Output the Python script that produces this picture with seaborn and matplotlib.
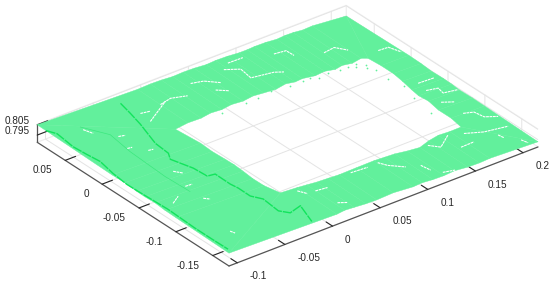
import numpy as np
import matplotlib
matplotlib.use("Agg")
import matplotlib.pyplot as plt
import seaborn as sns
from mpl_toolkits.mplot3d import proj3d

# ---- axis data
x_ticks = [-0.1, -0.05, 0, 0.05, 0.1, 0.15, 0.2]
x_tick_labels = ["-0.1", "-0.05", "0", "0.05", "0.1", "0.15", "0.2"]
y_ticks = [-0.15, -0.1, -0.05, 0, 0.05]
y_tick_labels = ["-0.15", "-0.1", "-0.05", "0", "0.05"]
z_ticks = [0.795, 0.805]
z_tick_labels = ["0.795", "0.805"]
x_range = (-0.1087, 0.2157)
y_range = (-0.172, 0.088)
z_range = (0.788, 0.8055)

# ---- surface: inner rim (around the hole) and outer rim, point for point
hole_x = [-.0122, .0046, .0140, .0235, .0350, .0465, .0650, .0846, .0950, .1055, .1170, .1292, .1420, .1543, .1660, .1783,
          .1806, .1800, .1825, .1810, .1825, .1850, .1865, .1866, .1849,
          .1801, .1690, .1600, .1513, .1420, .1310, .1194, .1110, .1025, .0905, .0785, .0680, .0560, .0445, .0330, .0216, .0100, -.0040, -.0189,
          -.0160, -.0165, -.0155, -.0150, -.0155, -.0165, -.0160, -.0122]
hole_y = [-.117, -.1180, -.1190, -.1200, -.1205, -.1210, -.1200, -.1190, -.1195, -.1200, -.1220, -.1235, -.1190, -.1160, -.1165, -.116,
          -.0995, -.083, -.0664, -.055, -.0438, -.028, -.0135, .0032, .0185,
          .0218, .0195, .0215, .0195, .0220, .0205, .0230, .0220, .0240, .0215, .0225, .0235, .0215, .0225, .0205, .0212, .0190, .0190, .0166,
          -.0136, -.030, -.0464, -.058, -.0706, -.085, -.0998, -.117]
hole_z = [.7992, .7988, .7986, .7983, .7981, .7978, .7974, .7969, .7967, .7965, .7961, .7959, .7957, .7953, .7950, .7948,
          .7950, .7955, .7956, .7960, .7960, .7962, .7965, .7964, .7970,
          .7972, .7974, .7976, .7978, .7981, .7984, .7986, .7988, .7990, .7992, .7995, .7998, .8000, .8003, .8005, .8008, .8010, .8014, .8017,
          .8011, .8008, .8005, .8003, .8001, .7999, .7996, .7992]
rim_x = [-.1087, .0046, .0140, .0235, .0350, .0465, .0650, .0846, .0950, .1055, .1170, .1292, .1420, .1543, .1660, .2157,
         .2157, .2157, .2150, .2157, .2157, .2150, .2157, .2157, .2157,
         .1801, .1690, .1600, .1513, .1420, .1310, .1194, .1110, .1025, .0905, .0785, .0680, .0560, .0445, .0330, .0216, .0100, -.0040, -.1087,
         -.1087, -.1080, -.1087, -.1087, -.1080, -.1087, -.1087, -.1087]
rim_y = [-.172, -.172, -.1705, -.171, -.172, -.172, -.1705, -.172, -.171, -.172, -.172, -.1705, -.172, -.172, -.171, -.172,
         -.0995, -.083, -.0664, -.055, -.0438, -.028, -.0135, .0032, .088,
         .088, .0868, .088, .088, .0870, .088, .088, .0872, .087, .088, .088, .0870, .088, .088, .0872, .088, .088, .087, .088,
         -.0136, -.030, -.0464, -.058, -.0706, -.085, -.0998, -.172]
rim_z = [.8005, .7979, .7977, .7974, .7972, .7969, .7965, .7960, .7958, .7956, .7953, .7950, .7947, .7944, .7942, .7930,
         .7943, .7945, .7948, .7950, .7952, .7955, .7958, .7961, .7950,
         .7981, .7986, .7988, .7990, .7992, .7995, .7997, .7999, .8001, .8004, .8007, .8009, .8012, .8015, .8017, .8020, .8023, .8026, .8050,
         .8032, .8030, .8027, .8025, .8023, .8020, .8017, .8005]

# ---- stray measured points just inside the hole
stray_x = [.1177, .1318, .1431, .0854, .0693, .1619, .1705, .1763, .1781, .1729, .1755, .1816, .1540, .1250, .1040, .0560, .0300, .1680, .1745, .1770]
stray_y = [.0201, .0165, .0188, .022, .0188, .016, .0162, .0102, -.0011, -.0822, -.0558, -.035, .0170, .0205, .0195, .0175, .0160, .0130, .0070, -.0180]
stray_z = [.7985, .7982, .7980, .7992, .7996, .7976, .7974, .7972, .7970, .7952, .7958, .7962, .7977, .7984, .7989, .7999, .8005, .7974, .7971, .7964]

# ---- dark-green ridges
ridge_a_x = [-.1085, -.1042, -.1065, -.105, -.1032, -.1066, -.1082, -.1074, -.1056, -.1064, -.106, -.1053]
ridge_a_y = [.0763, .0668, .0422, .0251, .0097, -.0122, -.0332, -.0539, -.0854, -.1231, -.1455, -.1663]
ridge_a_z = [.8047, .8045, .8041, .8038, .8036, .8032, .8028, .8025, .8019, .8013, .8009, .8005]
ridge_b_x = [-.03, -.0335, -.0379, -.047, -.0482, -.053, -.0464, -.045, -.0375, -.0374, -.036, -.0359, -.0301, -.0319, -.0258, -.0117, -.0202]
ridge_b_y = [.0767, .0588, .0396, .0075, -.0117, -.0205, -.0432, -.0603, -.0614, -.0816, -.0907, -.1068, -.1169, -.1398, -.148, -.1435, -.17]
ridge_b_z = [.8030, .8028, .8027, .8022, .8019, .8018, .8013, .8010, .8008, .8004, .8002, .7999, .7996, .7993, .7990, .7988, .7988]
ridge_c_x = [-.0812, -.0687, -.0724, -.0739, -.0721]
ridge_c_y = [.0652, .0406, .0088, -.0406, -.072]
ridge_c_z = [.8036, .8030, .8025, .8017, .8011]

# ---- white cracks: x list, y list, surface level
crack_x = [[.0385, .0496, .0592], [.0756, .0873, .085, .1059, .1128], [.1253, .1367, .1371],
           [.1608, .1728, .1793], [.2, .21, .2138], [-.0036, .0095, .0232], [.0486, .0565],
           [.0845, .0999], [-.0279, .0029], [.1937, .2098], [.192, .2024, .2007, .214],
           [.1901, .1991], [.194, .2025, .2043, .2139], [.1741, .1889, .2106], [.1578, .1718],
           [.0853, .0891, .0994], [.1118, .1135], [.0565, .0733], [.1371, .144, .1611],
           [.1198, .1301], [.1955, .1966], [.2062, .208], [-.0822, -.0794], [-.0266, -.0176],
           [-.059, -.0545], [-.0633, -.0584], [-.0703, -.0635], [-.0702, -.0665], [-.0652, -.0594],
           [-.0713, -.0669], [.0015, .0054], [.0169, .0237], [.0139, .0253], [-.0855, -.0841], [-.096, -.0854]]
crack_y = [[.0701, .0666, .056], [.073, .065, .0485, .0442, .0395], [.0693, .0675, .0572],
           [.0471, .0489, .0384], [.0243, .0235, .0109], [.0566, .0597, .0544], [.0492, .0417],
           [.079, .0786], [.0389, .0581], [-.0379, -.0388], [-.0509, -.0539, -.0628, -.0659],
           [-.0737, -.0798], [-.0985, -.1024, -.1137, -.1203], [-.1253, -.1334, -.1381], [-.1424, -.1419],
           [-.1231, -.1317, -.1429], [-.1472, -.1585], [-.1236, -.125], [-.1242, -.133, -.1205],
           [-.1668, -.17], [-.144, -.1507], [-.1613, -.1686], [.0599, .0499], [.0541, .052],
           [.0016, .0006], [-.0377, -.0451], [-.0632, -.0637], [-.0874, -.092], [.0341, .0322],
           [.0141, .0132], [-.1223, -.131], [-.1569, -.1616], [-.1308, -.1325], [-.1435, -.1485], [-.0798, -.073]]
crack_z = [.8009, .7998, .7990, .7978, .7965, .8017, .8006, .8002, .8021, .7957, .7953, .7951, .7944, .7943, .7947,
           .7966, .7957, .7973, .7954, .7951, .7939, .7933, .8038, .8024, .8023, .8017, .8014, .8010, .8030, .8028,
           .7987, .7977, .7982, .8004, .8017]

SURF = "#62F09C"
RIDGE = "#12E45C"
FAINT = "#3CE87E"
GRID = "#e4e4e4"
AXIS = "#555555"
TEXT = "#262626"

sns.set_theme(style="white", rc={"axes.facecolor": "white", "figure.facecolor": "white"})
plt.rcParams["font.family"] = ["Liberation Sans", "DejaVu Sans"]

fig = plt.figure(figsize=(5.5, 2.85), dpi=100)
ax = fig.add_axes([0, -0.5, 1, 2], projection="3d", computed_zorder=False)
ax.set_proj_type("ortho")
ax.view_init(elev=29.9, azim=-127.7)
ax.set_xlim(*x_range, view_margin=0)
ax.set_ylim(*y_range, view_margin=0)
ax.set_zlim(*z_range, view_margin=0)

ax.set_xticks(x_ticks)
ax.set_yticks(y_ticks)
ax.set_zticks(z_ticks)

for axis in (ax.xaxis, ax.yaxis, ax.zaxis):
    axis.set_tick_params(label1On=False, label2On=False)
    axis.pane.set_facecolor("white")
    axis.pane.set_edgecolor(GRID)
    axis.pane.set_linewidth(0.7)
    axis.line.set_color(AXIS)
    axis.line.set_linewidth(0.9)
    info = axis._axinfo
    info["grid"].update(color=GRID, linewidth=0.7)
    info["tick"].update(color=AXIS, inward_factor=0.0, outward_factor=0.42)
    info["tick"]["linewidth"] = {True: 0.8, False: 0.8}

X = np.array([rim_x, hole_x])
Y = np.array([rim_y, hole_y])
Z = np.array([rim_z, hole_z])
ax.plot_surface(X, Y, Z, color=SURF, shade=False, rstride=1, cstride=1,
                linewidth=0.3, edgecolor=SURF, antialiased=True, zorder=2)
ax.scatter(stray_x, stray_y, stray_z, s=1.6, color=SURF, linewidths=0, depthshade=False, zorder=3)
ax.plot(ridge_c_x, ridge_c_y, ridge_c_z, color=FAINT, lw=0.5, zorder=3)
for rx, ry, rz in ((ridge_a_x, ridge_a_y, ridge_a_z), (ridge_b_x, ridge_b_y, ridge_b_z)):
    ax.plot(rx, ry, rz, color=RIDGE, lw=1.0, ls=(0, (7, 0.7)), dash_capstyle="butt", zorder=4)
for cx, cy, cz in zip(crack_x, crack_y, crack_z):
    ax.plot(cx, cy, [cz] * len(cx), color="white", lw=0.8, ls=(0, (2.5, 0.6)), dash_capstyle="butt", zorder=5)

# layout: place the box so that its floor corners land where they belong
F = (x_range[0], y_range[0], z_range[0])
R = (x_range[1], y_range[0], z_range[0])
def px(p):
    ax.apply_aspect()
    u, v, _ = proj3d.proj_transform(*p, ax.get_proj())
    return ax.transData.transform((u, v))
zoom = 1.0
ax.set_box_aspect((390.6, 313.7, 20.8), zoom=zoom)
for _ in range(3):
    span = px(R)[0] - px(F)[0]
    zoom *= 309.0 / span
    ax.set_box_aspect((390.6, 313.7, 20.8), zoom=zoom)
p = px(F)
pos = ax.get_position(original=True)
ax.set_position([pos.x0 + (229 - p[0]) / 550, pos.y0 + ((285 - 266) - p[1]) / 285, pos.width, pos.height])

# tick labels placed from the projected tick positions (pixel offsets from each tick)
def tick_label(point, text, dx, dy, ha):
    q = px(point)
    fig.text((q[0] + dx) / 550, (q[1] - dy) / 285, text, ha=ha, va="center", color=TEXT, fontsize=7.2)

for v, s in zip(x_ticks, x_tick_labels):
    tick_label((v, y_range[0], z_range[0]), s, 12.5, 13.5, "left")
for v, s in zip(y_ticks, y_tick_labels):
    tick_label((x_range[0], v, z_range[0]), s, -13, 10, "right")
for v, s in zip(z_ticks, z_tick_labels):
    tick_label((x_range[0], y_range[1], v), s, -20, -4, "center")

fig.savefig("out.png", dpi=100)
